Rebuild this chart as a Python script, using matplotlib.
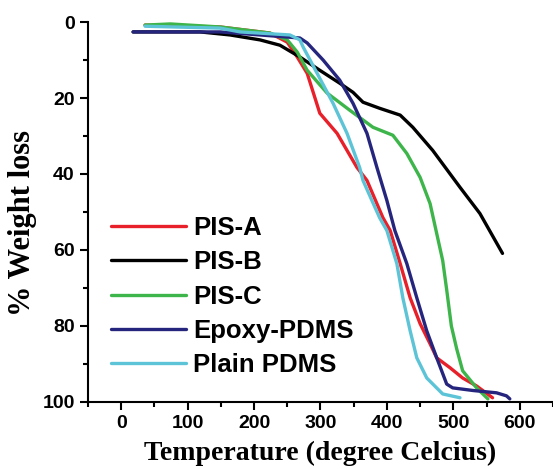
import matplotlib as mpl
mpl.use('Agg')
import matplotlib.pyplot as plt
from matplotlib.ticker import MultipleLocator

# TGA curves
temp_a = [36, 149, 224, 250, 265, 280, 299, 325, 355, 370, 394, 405, 420, 435, 450, 465, 475, 495, 514, 535, 559]
loss_a = [0.8, 1.3, 2.9, 5.3, 9.2, 13.5, 24.0, 29.3, 38.3, 41.7, 51.5, 54.9, 63.6, 72.6, 79.4, 84.7, 88.4, 91.0, 93.7, 95.8, 98.9]

temp_b = [18, 119, 164, 209, 239, 269, 299, 329, 349, 364, 389, 420, 439, 469, 510, 540, 574]
loss_b = [2.6, 2.6, 3.4, 4.7, 6.1, 9.2, 12.7, 16.1, 18.5, 21.1, 22.7, 24.5, 27.7, 33.8, 43.5, 50.4, 60.9]

temp_c = [36, 74, 149, 224, 250, 265, 280, 310, 344, 379, 409, 430, 450, 465, 475, 484, 490, 497, 505, 514, 535, 552]
loss_c = [0.8, 0.5, 1.3, 2.9, 4.7, 7.9, 12.7, 18.7, 23.2, 27.7, 29.8, 34.6, 40.9, 47.8, 55.7, 62.8, 70.5, 80.0, 86.0, 91.8, 96.3, 99.2]

temp_e = [18, 149, 209, 254, 269, 280, 304, 329, 349, 370, 385, 400, 412, 430, 445, 460, 475, 490, 499, 530, 565, 580, 585]
loss_e = [2.6, 2.6, 3.4, 4.0, 4.2, 5.5, 10.0, 15.3, 21.4, 29.3, 38.3, 47.0, 54.9, 63.6, 72.6, 81.3, 88.4, 95.3, 96.3, 97.0, 97.6, 98.4, 99.2]

temp_p = [36, 149, 179, 254, 269, 274, 295, 319, 340, 359, 364, 389, 400, 415, 424, 435, 445, 460, 484, 510]
loss_p = [1.1, 1.6, 2.6, 3.4, 4.7, 6.6, 13.5, 21.4, 29.3, 38.3, 41.7, 51.5, 54.9, 63.6, 72.6, 81.3, 88.4, 93.7, 97.9, 98.9]

labels = ['PIS-A', 'PIS-B', 'PIS-C', 'Epoxy-PDMS', 'Plain PDMS']
colors = ['#e8202a', '#000000', '#3db54a', '#25257e', '#5cc4d6']

fig = plt.figure(figsize=(5.53, 4.69), dpi=100)
ax = fig.add_axes([0.159, 0.143, 0.841, 0.810])

series = [(temp_a, loss_a), (temp_b, loss_b), (temp_c, loss_c), (temp_e, loss_e), (temp_p, loss_p)]
for (t, w), lab, c in zip(series, labels, colors):
    ax.plot(t, w, '-', color=c, lw=2.4, label=lab, solid_capstyle='round')

ax.set_xlim(-50, 650)
ax.set_ylim(100, 0)
ax.xaxis.set_major_locator(MultipleLocator(100))
ax.xaxis.set_minor_locator(MultipleLocator(50))
ax.yaxis.set_major_locator(MultipleLocator(20))
ax.yaxis.set_minor_locator(MultipleLocator(10))
ax.set_xticks(range(0, 601, 100))

for s in ['top', 'right']:
    ax.spines[s].set_visible(False)
for s in ['left', 'bottom']:
    ax.spines[s].set_linewidth(1.5)

ax.tick_params(which='major', direction='out', length=6, width=1.5, labelsize=14)
ax.tick_params(which='minor', direction='out', length=3.5, width=1.5)
for lbl in ax.get_xticklabels() + ax.get_yticklabels():
    lbl.set_fontfamily('Liberation Sans')
    lbl.set_fontweight('bold')

ax.set_xlabel('Temperature (degree Celcius)', fontfamily='Liberation Serif',
              fontweight='bold', fontsize=20, labelpad=6)
ax.set_ylabel('% Weight loss', fontfamily='Liberation Serif',
              fontweight='bold', fontsize=22)
ax.yaxis.set_label_coords(-0.11, 0.47)

leg = ax.legend(loc='lower left', bbox_to_anchor=(0.0, 0.004), frameon=False,
                handlelength=2.92, handletextpad=0.27, labelspacing=0.4,
                prop={'family': 'Liberation Sans', 'weight': 'bold', 'size': 18.5})

fig.savefig('out.png', dpi=100)
